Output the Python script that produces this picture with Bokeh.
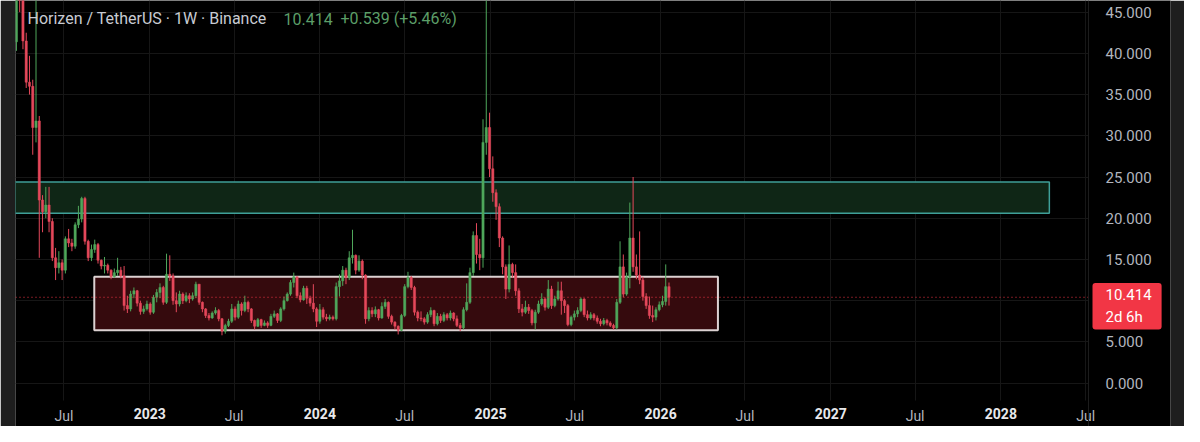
import pandas as pd
from bokeh.plotting import figure
from bokeh.models import (ColumnDataSource, Range1d, FixedTicker, NumeralTickFormatter,
                          Label, Span, DatetimeAxis)
from bokeh.embed import file_html
from bokeh.resources import INLINE

# ---------------- data (weekly ZEN/USDT, Binance) ----------------
first_week = "2022-03-21"
first_open = 41.4
close = [
    52.0, 47.0, 41.5, 36.5, 36.0, 31.0, 31.8, 22.2, 20.8, 21.6,
    19.6, 15.2, 14.0, 14.6, 13.7, 17.5, 17.0, 16.6, 19.2, 19.9,
    22.4, 17.2, 15.2, 16.2, 16.8, 14.9, 14.2, 14.3, 13.7, 12.9,
    13.4, 13.7, 13.0, 9.4, 9.0, 10.8, 11.2, 9.7, 8.7, 9.0,
    9.6, 8.6, 10.4, 11.0, 11.6, 9.8, 13.2, 13.0, 10.0, 9.6,
    10.8, 10.0, 10.6, 10.2, 10.6, 12.0, 9.8, 9.0, 8.2, 7.9,
    8.5, 8.8, 7.8, 6.3, 7.0, 7.5, 9.0, 8.0, 9.6, 8.8,
    9.8, 9.0, 7.6, 6.9, 7.7, 7.0, 7.3, 7.0, 8.1, 8.4,
    7.6, 9.0, 10.0, 10.8, 12.2, 12.9, 10.6, 10.1, 11.5, 10.3,
    9.7, 9.0, 7.5, 8.9, 8.0, 7.8, 8.0, 7.8, 11.7, 12.4,
    13.7, 12.8, 15.2, 15.5, 13.7, 14.8, 13.1, 7.8, 8.8, 8.4,
    8.9, 7.9, 9.3, 9.8, 8.1, 7.4, 6.9, 6.4, 8.2, 11.7,
    12.8, 11.6, 8.6, 7.9, 7.8, 7.4, 8.3, 8.8, 7.2, 8.1,
    7.6, 8.3, 7.9, 8.5, 7.8, 7.0, 6.7, 8.9, 9.8, 13.4,
    17.9, 15.6, 15.2, 29.2, 31.0, 26.0, 23.1, 21.4, 17.6, 14.1,
    11.4, 14.4, 13.4, 11.2, 9.0, 8.6, 9.2, 8.8, 7.3, 8.6,
    9.6, 10.2, 9.2, 11.4, 9.4, 10.2, 11.2, 10.0, 9.4, 7.1,
    8.0, 8.4, 8.8, 10.2, 8.3, 7.9, 8.3, 7.9, 7.5, 7.2,
    7.6, 7.3, 7.0, 6.7, 9.8, 14.1, 10.8, 12.9, 17.6, 14.1,
    13.1, 12.5, 10.5, 9.4, 8.2, 8.0, 8.9, 9.5, 9.9, 11.7,
    10.414]
high = [
    58.0, 53.0, 47.5, 42.5, 39.7, 36.8, 50.0, 32.4, 22.8, 23.8,
    23.8, 20.0, 16.4, 16.0, 15.0, 17.8, 18.7, 17.5, 19.5, 21.5,
    22.6, 22.6, 17.4, 16.8, 17.4, 17.0, 15.0, 15.3, 14.5, 13.8,
    13.9, 15.2, 14.1, 14.2, 10.6, 11.2, 11.6, 11.3, 10.0, 9.4,
    10.0, 9.8, 10.7, 11.4, 12.1, 11.8, 15.7, 15.5, 13.3, 11.0,
    11.2, 11.0, 11.0, 10.9, 11.0, 12.3, 12.0, 9.9, 9.1, 8.5,
    8.7, 9.2, 9.0, 7.9, 7.2, 7.8, 9.6, 9.3, 10.0, 9.8,
    10.6, 10.0, 9.1, 7.7, 7.9, 7.8, 7.6, 7.5, 8.4, 8.8,
    8.5, 9.2, 10.5, 11.0, 12.5, 13.4, 12.9, 11.0, 11.8, 11.8,
    10.6, 12.0, 9.2, 9.6, 9.2, 8.4, 8.3, 8.2, 12.2, 13.2,
    14.2, 14.0, 16.0, 18.6, 15.6, 15.5, 15.0, 13.2, 9.2, 9.2,
    9.3, 9.0, 9.8, 10.2, 9.9, 8.3, 7.5, 7.0, 8.4, 12.0,
    13.5, 13.0, 11.8, 8.8, 8.7, 8.0, 8.6, 9.2, 8.9, 8.5,
    8.4, 8.6, 8.5, 8.8, 8.6, 8.2, 7.3, 9.2, 12.1, 14.0,
    18.4, 19.4, 17.5, 32.0, 48.0, 32.8, 27.5, 23.5, 21.8, 17.8,
    14.4, 16.7, 14.6, 14.4, 11.5, 9.6, 10.0, 9.6, 9.0, 8.9,
    10.0, 10.9, 10.4, 12.5, 11.8, 10.6, 12.3, 12.3, 10.2, 9.6,
    8.2, 8.8, 9.2, 10.4, 10.3, 8.8, 8.6, 8.5, 8.2, 7.8,
    7.9, 7.8, 7.5, 7.2, 10.2, 17.2, 15.6, 13.4, 21.9, 25.0,
    15.6, 18.4, 12.9, 10.9, 10.5, 9.4, 9.2, 9.9, 10.6, 14.4,
    12.2]
low = [
    40.3, 45.0, 40.5, 35.8, 35.0, 27.7, 29.2, 15.2, 18.3, 20.0,
    18.3, 14.8, 12.5, 13.3, 12.5, 13.3, 16.5, 16.0, 16.3, 18.8,
    19.5, 16.8, 14.8, 14.8, 15.8, 14.5, 13.8, 13.3, 13.3, 12.6,
    12.8, 13.0, 12.7, 8.8, 8.5, 8.7, 10.3, 9.3, 8.3, 8.4,
    8.8, 8.3, 8.4, 9.8, 10.3, 9.5, 9.6, 12.4, 9.5, 8.6,
    9.3, 9.6, 9.8, 9.7, 10.0, 10.3, 9.5, 8.6, 7.9, 7.6,
    7.8, 8.3, 7.5, 5.8, 6.0, 6.8, 7.3, 7.6, 7.8, 8.2,
    8.6, 8.6, 7.3, 6.5, 6.8, 6.7, 6.9, 6.7, 6.9, 7.9,
    7.3, 7.4, 8.8, 9.9, 10.6, 11.6, 10.3, 9.8, 10.0, 9.6,
    9.3, 8.6, 6.8, 7.2, 7.7, 7.5, 7.6, 7.6, 7.6, 10.5,
    11.8, 12.0, 12.5, 14.5, 13.2, 13.5, 12.6, 7.2, 7.5, 8.0,
    8.0, 7.6, 7.8, 9.0, 7.8, 7.1, 6.5, 5.9, 6.3, 8.0,
    11.5, 11.3, 8.2, 7.5, 7.5, 7.1, 7.2, 8.0, 6.9, 7.0,
    7.3, 7.4, 7.6, 7.6, 7.5, 6.8, 6.3, 6.5, 8.7, 9.6,
    13.0, 14.5, 13.7, 14.0, 27.7, 25.0, 22.0, 19.8, 16.5, 13.2,
    10.2, 11.0, 12.8, 10.6, 8.5, 8.1, 8.4, 8.4, 7.0, 6.5,
    8.4, 9.4, 8.8, 9.0, 9.0, 9.2, 10.0, 8.3, 8.5, 6.9,
    6.9, 7.6, 8.0, 8.6, 8.0, 7.6, 7.7, 7.6, 7.2, 6.9,
    7.0, 7.0, 6.8, 6.5, 6.5, 9.6, 10.4, 10.6, 11.5, 13.5,
    12.6, 12.0, 10.0, 9.0, 7.8, 7.4, 7.6, 8.7, 9.2, 9.4,
    9.4]

# drawn zones (resistance / range boxes)
zone_start = ["2022-03-18", "2022-09-04"]
zone_end = ["2028-04-14", "2026-05-04"]
zone_low = [20.6, 6.4]
zone_high = [24.4, 12.9]
zone_fill = ["#0f2616", "#350a0d"]
zone_line = ["#3f9f98", "#dcd2d2"]
zone_line_w = [1.5, 2]

# axis ticks
x_tick_dates = ["2022-07-01", "2023-01-01", "2023-07-01", "2024-01-01", "2024-07-01",
                "2025-01-01", "2025-07-01", "2026-01-01", "2026-07-01", "2027-01-01",
                "2027-07-01", "2028-01-01", "2028-07-01"]
x_tick_labels = ["Jul", "2023", "Jul", "2024", "Jul", "2025", "Jul", "2026", "Jul",
                 "2027", "Jul", "2028", "Jul"]
y_ticks = [0, 5, 10, 15, 20, 25, 30, 35, 40, 45]
y_label_ticks = [0, 5, 15, 20, 25, 30, 35, 40, 45]   # 10.000 sits under the price tag

header = "Horizen / TetherUS · 1W · Binance"
change = "+0.539 (+5.46%)"
countdown = "2d 6h"

UP, DOWN = "#4fa75b", "#e5485b"

# ---------------- layout constants ----------------
W, H = 1184, 426
LEFT, RIGHT = 15, 14                # grey screen edges
FRAME_W, FRAME_H = W - LEFT - RIGHT, H
CHART_W, CHART_H = 1073, 400        # chart pane; the rest is price scale / time scale
PANE_Y0, Y1 = -2.11, 46.41          # price at bottom / top of the chart pane
Y0 = PANE_Y0 - (Y1 - PANE_Y0) * (FRAME_H - CHART_H) / CHART_H
X_START = pd.Timestamp("2022-03-19")
SCALE_EDGE = pd.Timestamp("2028-07-07")
X_END = X_START + (SCALE_EDGE - X_START) * (FRAME_W / CHART_W)
edge_ms = SCALE_EDGE.value / 1e6
start_ms = X_START.value / 1e6

# ---------------- build ----------------
n = len(close)
dates = pd.date_range(first_week, periods=n, freq="7D")
opens = [first_open] + close[:-1]
src = ColumnDataSource(dict(
    date=dates,
    open=opens, close=close, high=high, low=low,
    top=[max(o, c) for o, c in zip(opens, close)],
    bottom=[min(o, c) for o, c in zip(opens, close)],
    color=[UP if c >= o else DOWN for o, c in zip(opens, close)],
))
zsrc = ColumnDataSource(dict(
    left=pd.to_datetime(zone_start), right=pd.to_datetime(zone_end),
    bottom=zone_low, top=zone_high, fill=zone_fill, line=zone_line, lw=zone_line_w,
))

p = figure(width=W, height=H, x_axis_type="datetime", y_axis_location="right",
           x_range=Range1d(X_START, X_END), y_range=Range1d(Y0, Y1),
           output_backend="svg", toolbar_location=None,
           background_fill_color="#000000", border_fill_color="#1e1e1e",
           min_border_left=LEFT, min_border_right=RIGHT, min_border_top=0,
           min_border_bottom=0)
p.outline_line_color = None

tick_ms = [pd.Timestamp(d).value / 1e6 for d in x_tick_dates]
month_ticks = [t for t, lab in zip(tick_ms, x_tick_labels) if not lab.isdigit()]
year_ticks = [t for t, lab in zip(tick_ms, x_tick_labels) if lab.isdigit()]
labels = {t: lab for t, lab in zip(tick_ms, x_tick_labels)}

# time scale: month labels (grey) and year labels (bright, bold) under the chart pane
month_axis = p.xaxis[0]
month_axis.ticker = FixedTicker(ticks=month_ticks)
month_axis.major_label_overrides = {t: labels[t] for t in month_ticks}
month_axis.fixed_location = PANE_Y0
year_axis = DatetimeAxis(ticker=FixedTicker(ticks=year_ticks),
                         major_label_overrides={t: labels[t] for t in year_ticks},
                         fixed_location=PANE_Y0)
p.add_layout(year_axis, "below")
p.xgrid.ticker = FixedTicker(ticks=tick_ms)

# price scale
p.yaxis.ticker = FixedTicker(ticks=y_label_ticks)
p.ygrid.ticker = FixedTicker(ticks=y_ticks)
p.yaxis.formatter = NumeralTickFormatter(format="0.000")
p.yaxis.fixed_location = edge_ms
if "cross_bounds" in p.ygrid[0].properties():
    p.ygrid.cross_bounds = (start_ms, edge_ms)
    p.xgrid.cross_bounds = (PANE_Y0, Y1)

for ax in (month_axis, year_axis, p.yaxis[0]):
    ax.axis_line_color = None
    ax.major_tick_line_color = None
    ax.minor_tick_line_color = None
    ax.major_tick_out = 0
    ax.major_tick_in = 0
    ax.minor_tick_out = 0
    ax.minor_tick_in = 0
    ax.major_label_text_font = "Roboto"
for ax in (month_axis, year_axis):
    ax.major_label_text_font_size = "14px"
    ax.major_label_standoff = 7
month_axis.major_label_text_color = "#b2b5be"
year_axis.major_label_text_color = "#e8e9ec"
year_axis.major_label_text_font_style = "bold"
p.yaxis.major_label_text_font_size = "15px"
p.yaxis.major_label_text_color = "#b2b5be"
p.yaxis.major_label_standoff = 17
p.xgrid.grid_line_color = "#161616"
p.ygrid.grid_line_color = "#161616"

p.add_layout(Span(location=edge_ms, dimension="height", line_color="#1c1c1c", line_width=1))

p.quad(left="left", right="right", bottom="bottom", top="top", source=zsrc,
       fill_color="fill", line_color="line", line_width="lw")

w = 7 * 24 * 3600 * 1000 * 0.68
p.segment(x0="date", y0="high", x1="date", y1="low", color="color", line_width=1, source=src)
p.vbar(x="date", width=w, top="top", bottom="bottom", fill_color="color",
       line_color="color", line_width=0.5, source=src)

# dotted last-price line across the chart pane
p.segment(x0=[X_START], y0=[close[-1]], x1=[SCALE_EDGE], y1=[close[-1]],
          line_color="#f23645", line_dash="1 3", line_width=1)

p.add_layout(Label(x=12, y=FRAME_H - 18, x_units="screen", y_units="screen",
                   text=header, text_font="Roboto",
                   text_font_size="16px", text_color="#c8cbd2", text_baseline="middle"))
p.add_layout(Label(x=268, y=FRAME_H - 18, x_units="screen", y_units="screen",
                   text=f"{close[-1]:.3f}", text_font="Roboto",
                   text_font_size="16px", text_color="#5c9e68", text_baseline="middle"))
p.add_layout(Label(x=325, y=FRAME_H - 18, x_units="screen", y_units="screen",
                   text=change, text_font="Roboto",
                   text_font_size="16px", text_color="#5c9e68", text_baseline="middle"))

# current price tag on the price scale
price_y = (close[-1] - Y0) / (Y1 - Y0) * FRAME_H
p.add_layout(Label(x=CHART_W + 4, y=price_y - 9, x_units="screen", y_units="screen",
                   text=f"{close[-1]:.3f}\n{countdown}", text_font="Roboto",
                   text_font_size="15px", text_color="#ffffff", text_baseline="middle",
                   text_align="left",
                   background_fill_color="#f23645", border_radius=3,
                   padding=dict(left=13, right=10, top=3, bottom=4)))

open("out.html", "w").write(file_html(p, INLINE, title="ZEN/USDT 1W"))
